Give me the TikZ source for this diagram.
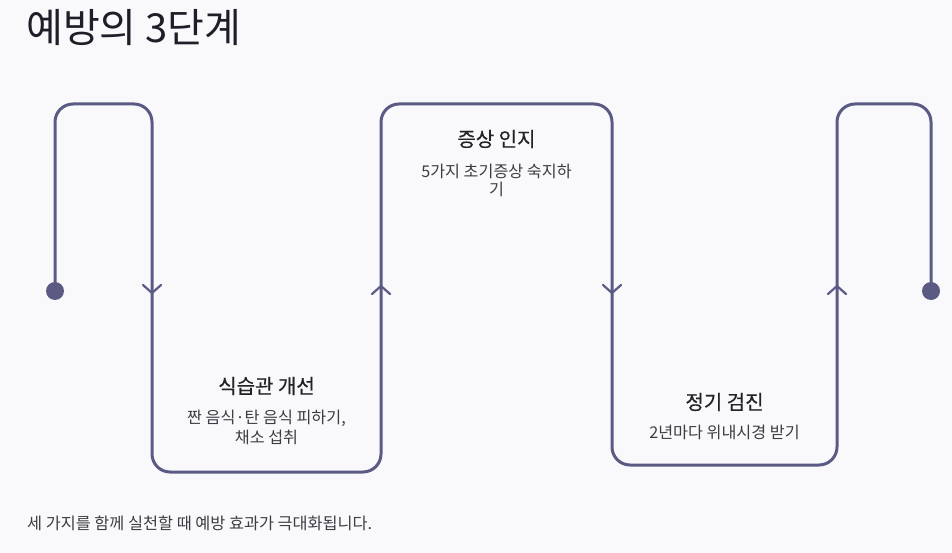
\documentclass[tikz,border=0pt]{standalone}
\usepackage{fontspec}
\setmainfont{Noto Sans CJK KR}
\newfontfamily\krmed{Noto Sans CJK KR}[FakeBold=0.4]
\definecolor{bgc}{HTML}{F9F9FB}
\definecolor{linec}{HTML}{5A5A84}
\definecolor{titlec}{HTML}{1E1E28}
\definecolor{headc}{HTML}{222228}
\definecolor{descc}{HTML}{3C3C44}
\tikzset{
  flow/.style={draw=linec, line width=3pt, rounded corners=18pt},
  chev/.style={draw=linec, line width=2.2pt, line cap=round, line join=round},
  dotc/.style={circle, fill=linec, inner sep=0pt, minimum size=18pt},
  headtxt/.style={text=headc, inner sep=0pt, font=\krmed\fontsize{20}{24}\selectfont},
  desctxt/.style={text=descc, inner sep=0pt, align=center},
}
\begin{document}
\begin{tikzpicture}[x=1pt,y=-1pt]
\fill[bgc] (0,0) rectangle (952,553);
\useasboundingbox (0,0) rectangle (952,553);
\node[anchor=west, inner sep=0pt, text=titlec, font=\fontsize{40}{44}\selectfont] (title) at (26,28) {예방의 3단계};
\node[dotc] (start) at (55,291) {};
\node[dotc] (end) at (931,291) {};
\draw[flow] (start.center) -- (55,104) -- (152,104) -- (152,472) -- (381,472) -- (381,104) -- (612,104) -- (612,465) -- (837,465) -- (837,104) -- (931,104) -- (end.center);
% chevrons
\draw[chev] (143,285) -- (152,293) -- (161,285);
\draw[chev] (372,294) -- (381,286) -- (390,294);
\draw[chev] (603,285) -- (612,293) -- (621,285);
\draw[chev] (828,294) -- (837,286) -- (846,294);
% texts
\node[headtxt] (h1) at (266.5,386) {식습관 개선};
\node[desctxt, font=\fontsize{16.2}{20}\selectfont] (d1) at (266.5,427) {짠 음식·탄 음식 피하기,\\채소 섭취};
\node[headtxt] (h2) at (496.5,139) {증상 인지};
\node[desctxt, font=\fontsize{16.2}{18}\selectfont] (d2) at (496.5,180) {5가지 초기증상 숙지하\\기};
\node[headtxt] (h3) at (724.5,402) {정기 검진};
\node[desctxt, font=\fontsize{16.2}{18}\selectfont] (d3) at (724.5,432) {2년마다 위내시경 받기};
\node[anchor=west, inner sep=0pt, text=descc, font=\fontsize{16.3}{18}\selectfont] (foot) at (27,523) {세 가지를 함께 실천할 때 예방 효과가 극대화됩니다.};
\end{tikzpicture}
\end{document}
